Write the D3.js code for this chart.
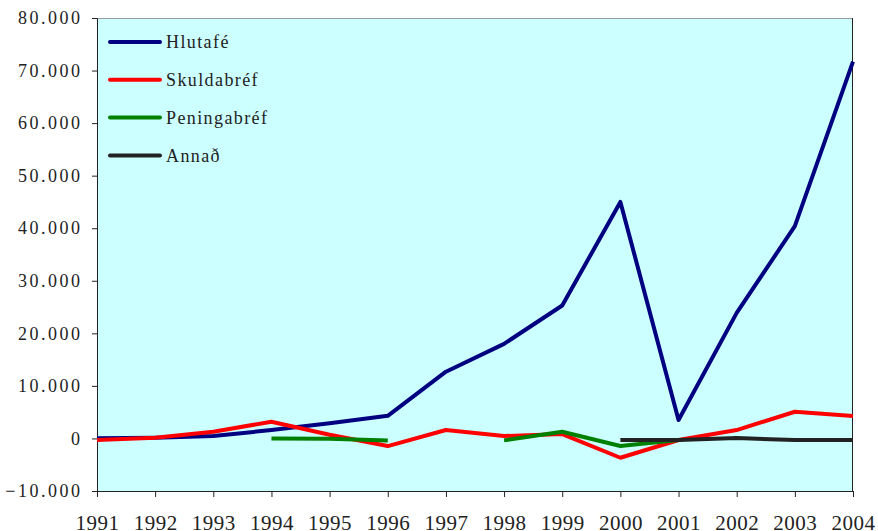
<!DOCTYPE html>
<html>
<head>
<meta charset="utf-8">
<script src="https://cdn.jsdelivr.net/npm/d3@7"></script>
<style>
  body { margin: 0; background: #fff; }
  svg text { font-family: "Times New Roman", Times, "Liberation Serif", "DejaVu Serif", serif !important; fill: #222; }
</style>
</head>
<body>
<svg id="chart" width="878" height="531"></svg>
<script>
// values
var years = [1991, 1992, 1993, 1994, 1995, 1996, 1997, 1998, 1999, 2000, 2001, 2002, 2003, 2004]
var hlutafe = [50, 150, 450, 1600, 2900, 4300, 12700, 18000, 25300, 45000, 3500, 23900, 40400, 71700]
var skuldabref = [-300, 150, 1270, 3180, 700, -1450, 1600, 450, 840, -3670, -300, 1600, 5080, 4260]
var peningabref = [null, null, null, 0, -50, -370, null, -370, 1270, -1450, -300, null, null, null]
var annad = [null, null, null, null, null, null, null, null, null, -300, -300, 80, -300, -300]
var yTicks = [-10000, 0, 10000, 20000, 30000, 40000, 50000, 60000, 70000, 80000]

var series = [
  {name: 'Hlutafé', values: hlutafe, color: '#000080'},
  {name: 'Skuldabréf', values: skuldabref, color: '#ff0000'},
  {name: 'Peningabréf', values: peningabref, color: '#008000'},
  {name: 'Annað', values: annad, color: '#222222'}
]

var svg = d3.select('#chart')
var plotL = 97, plotR = 853, plotT = 18, plotB = 491

var x = d3.scaleLinear().domain([1991, 2004]).range([plotL, plotR])
var y = d3.scaleLinear().domain([-10000, 80000]).range([plotB, plotT])

let fmt = (v) => v === 0 ? '0' : d3.format(',')(v).replace(/,/g, '.')

svg.append('rect')
  .attr('x', plotL).attr('y', plotT)
  .attr('width', plotR - plotL).attr('height', plotB - plotT)
  .attr('fill', '#ccffff')

// frame: top lighter, right dark
svg.append('line').attr('x1', plotL).attr('x2', plotR).attr('y1', plotT + 0.5).attr('y2', plotT + 0.5)
  .attr('stroke', '#999').attr('stroke-width', 1)
svg.append('line').attr('x1', plotR - 0.5).attr('x2', plotR - 0.5).attr('y1', plotT).attr('y2', plotB)
  .attr('stroke', '#222').attr('stroke-width', 1)

var yAxis = svg.append('g')
  .attr('transform', 'translate(' + plotL + ',0)')
  .call(d3.axisLeft(y).tickValues(yTicks).tickSize(5).tickFormat(fmt))
yAxis.attr('font-family', null)
yAxis.select('.domain').attr('stroke', '#222')
yAxis.selectAll('.tick line').attr('stroke', '#222')
yAxis.selectAll('text')
  .attr('x', -14.5)
  .style('font-size', '18px')
  .style('letter-spacing', '2.5px')
  .attr('fill', '#222')

var xAxis = svg.append('g')
  .attr('transform', 'translate(0,' + plotB + ')')
  .call(d3.axisBottom(x).tickValues(years).tickSize(6).tickFormat(d3.format('d')))
xAxis.attr('font-family', null)
xAxis.select('.domain').attr('stroke', '#222')
xAxis.selectAll('.tick line').attr('stroke', '#222')
xAxis.selectAll('text')
  .attr('y', 24)
  .style('font-size', '21px')
  .style('letter-spacing', '0.5px')
  .attr('fill', '#222')

var line = d3.line()
  .defined((d) => d != null)
  .x((d, i) => x(years[i]))
  .y((d) => y(d))

series.forEach((s) => {
  svg.append('path')
    .datum(s.values)
    .attr('fill', 'none')
    .attr('stroke', s.color)
    .attr('stroke-width', 4)
    .attr('stroke-linejoin', 'round')
    .attr('d', line)
})

var legend = svg.append('g')
series.forEach((s, i) => {
  let ly = 42 + i * 37.8
  legend.append('line')
    .attr('x1', 110).attr('x2', 160).attr('y1', ly).attr('y2', ly)
    .attr('stroke', s.color).attr('stroke-width', 4).attr('stroke-linecap', 'round')
  legend.append('text')
    .attr('x', 166).attr('y', ly)
    .attr('dy', '0.35em')
    .style('font-size', '18px')
    .style('letter-spacing', '1.4px')
    .text(s.name)
})
</script>
</body>
</html>
